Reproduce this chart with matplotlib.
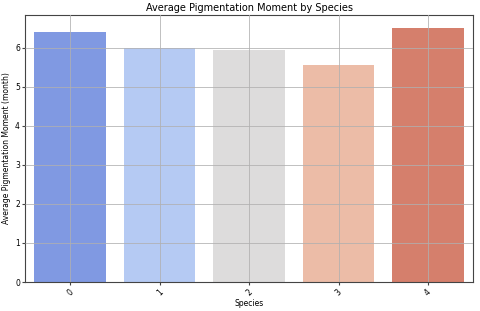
import matplotlib
matplotlib.use("Agg")
import matplotlib.pyplot as plt
import seaborn as sns

species = ["0", "1", "2", "3", "4"]
avg_moment = [6.40, 6.00, 5.95, 5.55, 6.51]

fig, ax = plt.subplots(figsize=(4.8, 3.11), dpi=100)
colors = [sns.desaturate(c, 0.75) for c in sns.color_palette("coolwarm", len(species))]
ax.bar(species, avg_moment, color=colors, width=0.8, zorder=1)
ax.set_xlim(-0.5, len(species) - 0.5)
ax.grid(True, color="#b0b0b0", linewidth=0.7, alpha=0.8, zorder=3)
ax.set_axisbelow(False)
for s in ax.spines.values():
    s.set_color("#444444")
    s.set_linewidth(0.8)

ax.set_title("Average Pigmentation Moment by Species", fontsize=7, pad=3)
ax.set_xlabel("Species", fontsize=5.5, labelpad=1)
ax.set_ylabel("Average Pigmentation Moment (month)", fontsize=5.5, labelpad=3)
ax.tick_params(labelsize=5.5, length=2.5, pad=1.5, color="#444444")
plt.setp(ax.get_xticklabels(), rotation=45)

fig.subplots_adjust(left=0.053, right=0.985, top=0.952, bottom=0.093)
fig.savefig("out.png")
